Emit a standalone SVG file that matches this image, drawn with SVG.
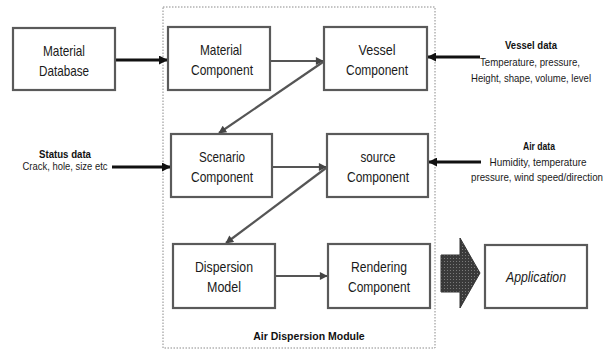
<svg xmlns="http://www.w3.org/2000/svg" width="614" height="351" viewBox="0 0 614 351">
  <defs>
    <style>
      .box { fill: #fff; stroke: #5a5a5a; stroke-width: 2.2; }
      .module { fill: none; stroke: #8a8a8a; stroke-width: 1; stroke-dasharray: 1.5 1.5; }
      .lbl { font-family: "Liberation Sans", Arial, sans-serif; font-size: 15px; fill: #1a1a1a; text-anchor: middle; }
      .note { font-family: "Liberation Sans", Arial, sans-serif; font-size: 10.5px; fill: #1a1a1a; text-anchor: middle; }
      .head { font-family: "Liberation Sans", Arial, sans-serif; font-size: 10.5px; font-weight: bold; fill: #111; text-anchor: middle; }
      .ext { stroke: #111; stroke-width: 3; fill: none; }
      .int { stroke: #555; stroke-width: 2.2; fill: none; }
    </style>
    <marker id="ah-ext" viewBox="0 0 10 10" refX="9" refY="5" markerWidth="3" markerHeight="3" orient="auto" markerUnits="strokeWidth">
      <path d="M0,0 L10,5 L0,10 z" fill="#111"/>
    </marker>
    <marker id="ah-int" viewBox="0 0 10 10" refX="9" refY="5" markerWidth="4" markerHeight="3.6" orient="auto" markerUnits="strokeWidth">
      <path d="M0,0 L10,5 L0,10 z" fill="#444"/>
    </marker>
    <pattern id="hatch" width="3" height="3" patternUnits="userSpaceOnUse">
      <rect width="3" height="3" fill="#3a3a3a"/>
      <rect width="1" height="1" fill="#7a7a7a"/>
    </pattern>
  </defs>

  <!-- module outline -->
  <rect class="module" x="163" y="7" width="272" height="341"/>
  <text class="head" x="309" y="340" font-size="11">Air Dispersion Module</text>

  <!-- connectors -->
  <g id="connectors">
    <line class="ext" x1="115" y1="60" x2="167" y2="60" marker-end="url(#ah-ext)"/>
    <line class="ext" x1="112" y1="167" x2="170" y2="167" marker-end="url(#ah-ext)"/>
    <line class="ext" x1="480" y1="57" x2="428" y2="57" marker-end="url(#ah-ext)"/>
    <line class="ext" x1="481" y1="162" x2="429" y2="162" marker-end="url(#ah-ext)"/>
    <line class="int" x1="270" y1="61" x2="323" y2="61" marker-end="url(#ah-int)"/>
    <line class="int" x1="323" y1="62" x2="219" y2="133" marker-end="url(#ah-int)"/>
    <line class="int" x1="272" y1="167" x2="326" y2="167" marker-end="url(#ah-int)"/>
    <line class="int" x1="326" y1="168" x2="226" y2="243" marker-end="url(#ah-int)"/>
    <line class="int" x1="275" y1="276" x2="327" y2="276" marker-end="url(#ah-int)"/>
    <polygon points="441,255 460,255 460,238 480,273 460,308 460,292 441,292" fill="url(#hatch)" stroke="#333" stroke-width="1"/>
  </g>

  <g id="material-database">
    <rect class="box" x="13" y="28" width="102" height="62"/>
    <text class="lbl" x="64" y="56" textLength="42" lengthAdjust="spacingAndGlyphs">Material</text>
    <text class="lbl" x="64" y="76" textLength="50" lengthAdjust="spacingAndGlyphs">Database</text>
  </g>

  <g id="material-component">
    <rect class="box" x="168" y="27" width="102" height="63"/>
    <text class="lbl" x="221" y="55" textLength="42" lengthAdjust="spacingAndGlyphs">Material</text>
    <text class="lbl" x="222" y="75" textLength="62" lengthAdjust="spacingAndGlyphs">Component</text>
  </g>

  <g id="vessel-component">
    <rect class="box" x="324" y="27" width="103" height="63"/>
    <text class="lbl" x="377" y="55" textLength="37" lengthAdjust="spacingAndGlyphs">Vessel</text>
    <text class="lbl" x="377" y="75" textLength="62" lengthAdjust="spacingAndGlyphs">Component</text>
  </g>

  <g id="scenario-component">
    <rect class="box" x="171" y="134" width="101" height="63"/>
    <text class="lbl" x="222" y="162" textLength="46" lengthAdjust="spacingAndGlyphs">Scenario</text>
    <text class="lbl" x="222" y="182" textLength="62" lengthAdjust="spacingAndGlyphs">Component</text>
  </g>

  <g id="source-component">
    <rect class="box" x="327" y="134" width="101" height="63"/>
    <text class="lbl" x="378" y="162" textLength="35" lengthAdjust="spacingAndGlyphs">source</text>
    <text class="lbl" x="378" y="182" textLength="62" lengthAdjust="spacingAndGlyphs">Component</text>
  </g>

  <g id="dispersion-model">
    <rect class="box" x="173" y="244" width="102" height="64"/>
    <text class="lbl" x="224" y="272" textLength="58" lengthAdjust="spacingAndGlyphs">Dispersion</text>
    <text class="lbl" x="224" y="292" textLength="34" lengthAdjust="spacingAndGlyphs">Model</text>
  </g>

  <g id="rendering-component">
    <rect class="box" x="328" y="244" width="102" height="64"/>
    <text class="lbl" x="379" y="272" textLength="56" lengthAdjust="spacingAndGlyphs">Rendering</text>
    <text class="lbl" x="379" y="292" textLength="62" lengthAdjust="spacingAndGlyphs">Component</text>
  </g>

  <g id="application">
    <rect class="box" x="485" y="245" width="102" height="63"/>
    <text class="lbl" x="536" y="282" font-style="italic" font-size="14" textLength="60" lengthAdjust="spacingAndGlyphs">Application</text>
  </g>

  <!-- input data notes -->
  <g id="status-data">
    <text class="head" x="65" y="158" textLength="52" lengthAdjust="spacingAndGlyphs">Status data</text>
    <text class="note" x="65" y="170" textLength="85" lengthAdjust="spacingAndGlyphs">Crack, hole, size etc</text>
  </g>

  <g id="vessel-data">
    <text class="head" x="531" y="49" textLength="52" lengthAdjust="spacingAndGlyphs">Vessel data</text>
    <text class="note" x="530" y="66" textLength="100" lengthAdjust="spacingAndGlyphs">Temperature, pressure,</text>
    <text class="note" x="531" y="82" textLength="120" lengthAdjust="spacingAndGlyphs">Height, shape, volume, level</text>
  </g>

  <g id="air-data">
    <text class="head" x="539" y="150" textLength="32" lengthAdjust="spacingAndGlyphs">Air data</text>
    <text class="note" x="538" y="166" textLength="97" lengthAdjust="spacingAndGlyphs">Humidity, temperature</text>
    <text class="note" x="537" y="181" textLength="132" lengthAdjust="spacingAndGlyphs">pressure, wind speed/direction</text>
  </g>
</svg>
